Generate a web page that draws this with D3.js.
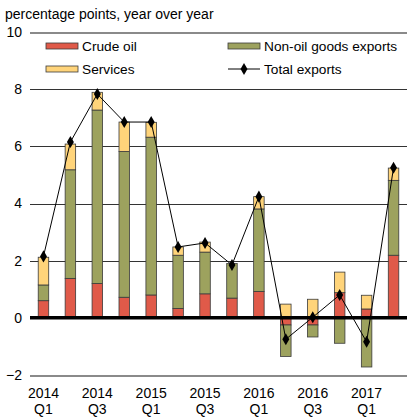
<!DOCTYPE html>
<html>
<head>
<meta charset="utf-8">
<script src="https://d3js.org/d3.v7.min.js"></script>
<style>
body { margin: 0; background: #fff; }
svg text { font-family: "Liberation Sans", Arial, sans-serif; font-size: 14px; fill: #000; }
.legend text { font-size: 13.7px; }
.axis path, .axis line { display: none; }
</style>
</head>
<body>
<svg width="418" height="420"></svg>
<script>
const quarters = ["2014 Q1", "2014 Q2", "2014 Q3", "2014 Q4", "2015 Q1", "2015 Q2", "2015 Q3",
  "2015 Q4", "2016 Q1", "2016 Q2", "2016 Q3", "2016 Q4", "2017 Q1", "2017 Q2"];
const crudeOil = [0.60, 1.38, 1.20, 0.72, 0.80, 0.33, 0.84, 0.69, 0.92, -0.25, -0.25, 0.88, 0.31, 2.19];
const nonOilGoods = [0.55, 3.80, 6.07, 5.10, 5.52, 1.86, 1.46, 1.21, 2.89, -1.10, -0.42, -0.89, -1.72, 2.62];
const services = [0.97, 0.90, 0.62, 1.03, 0.52, 0.29, 0.35, 0.00, 0.43, 0.48, 0.65, 0.72, 0.48, 0.43];
const totalExports = [2.15, 6.15, 7.83, 6.85, 6.85, 2.48, 2.62, 1.85, 4.24, -0.75, 0.02, 0.80, -0.84, 5.25];
const yTicks = [-2, 0, 2, 4, 6, 8, 10];
const tickQuarters = ["2014 Q1", "2014 Q3", "2015 Q1", "2015 Q3", "2016 Q1", "2016 Q3", "2017 Q1"];

const series = [
  { key: "crude", name: "Crude oil", values: crudeOil, color: "#e05a49" },
  { key: "nonoil", name: "Non-oil goods exports", values: nonOilGoods, color: "#9da25e" },
  { key: "services", name: "Services", values: services, color: "#ffd47a" }
];

const table = quarters.map((q, i) => {
  const row = { q };
  series.forEach(s => row[s.key] = s.values[i]);
  return row;
});

const svg = d3.select("svg");
const margin = { top: 32, right: 11, bottom: 45, left: 30 };
const width = +svg.attr("width") - margin.left - margin.right;
const height = 375 - margin.top;

const g = svg.append("g").attr("transform", `translate(${margin.left},${margin.top})`);

const x = d3.scaleBand().domain(quarters).range([0, width]).paddingInner(0.61).paddingOuter(0.305);
const y = d3.scaleLinear().domain([-2, 10]).range([height, 0]);

// gridlines
g.append("g")
  .selectAll("line")
  .data(yTicks.filter(t => t !== 0))
  .enter().append("line")
  .attr("x1", 0).attr("x2", width)
  .attr("y1", d => Math.round(y(d)) + 0.5).attr("y2", d => Math.round(y(d)) + 0.5)
  .style("shape-rendering", "crispEdges")
  .style("stroke", d => (d === 10 || d === -2) ? "#8a8a8a" : "#333")
  .style("stroke-width", d => (d === 10 || d === -2) ? 2 : 1);

// y labels
g.append("g").attr("class", "axis")
  .call(d3.axisLeft(y).tickValues(yTicks).tickSize(0).tickPadding(8));

// stacked bars
const stack = d3.stack().keys(series.map(s => s.key)).offset(d3.stackOffsetDiverging);
const layers = stack(table);

g.selectAll(".layer")
  .data(layers)
  .enter().append("g")
  .attr("class", "layer")
  .attr("fill", (d, i) => series[i].color)
  .selectAll("rect")
  .data(d => d)
  .enter().append("rect")
  .attr("x", d => x(d.data.q))
  .attr("width", x.bandwidth())
  .attr("y", d => y(Math.max(d[0], d[1])))
  .attr("height", d => Math.abs(y(d[0]) - y(d[1])))
  .attr("stroke", "#3a3a3a")
  .attr("stroke-width", 0.8);

// zero line
g.append("line")
  .attr("x1", 0).attr("x2", width)
  .attr("y1", y(0)).attr("y2", y(0))
  .attr("stroke", "#000").attr("stroke-width", 3.5);

// total exports line
const line = d3.line()
  .x((d, i) => x(quarters[i]) + x.bandwidth() / 2)
  .y(d => y(d));

g.append("path")
  .datum(totalExports)
  .attr("fill", "none")
  .attr("stroke", "#000")
  .attr("stroke-width", 1)
  .attr("d", line);

const diamond = d3.symbol().type(d3.symbolDiamond).size(42);
g.selectAll(".dot")
  .data(totalExports)
  .enter().append("path")
  .attr("class", "dot")
  .attr("d", diamond)
  .attr("transform", (d, i) => `translate(${x(quarters[i]) + x.bandwidth() / 2},${y(d)})`)
  .attr("fill", "#000");

// x labels
const xl = g.append("g").attr("transform", `translate(0,${height})`);
xl.selectAll("text.yr")
  .data(tickQuarters)
  .enter().append("text")
  .attr("x", d => x(d) + x.bandwidth() / 2)
  .attr("y", 23)
  .attr("text-anchor", "middle")
  .text(d => d.split(" ")[0]);
xl.selectAll("text.qt")
  .data(tickQuarters)
  .enter().append("text")
  .attr("x", d => x(d) + x.bandwidth() / 2)
  .attr("y", 39)
  .attr("text-anchor", "middle")
  .text(d => d.split(" ")[1]);

// title
svg.append("text").attr("x", 5).attr("y", 19).text("percentage points, year over year");

// legend
const legendItems = [
  { name: "Crude oil", color: series[0].color, x: 46, y: 46 },
  { name: "Non-oil goods exports", color: series[1].color, x: 228, y: 46 },
  { name: "Services", color: series[2].color, x: 46, y: 69 },
  { name: "Total exports", line: true, x: 228, y: 69 }
];
const lg = svg.append("g").attr("class", "legend");
legendItems.forEach(it => {
  if (it.line) {
    lg.append("line").attr("x1", it.x).attr("x2", it.x + 32)
      .attr("y1", it.y).attr("y2", it.y).attr("stroke", "#000").attr("stroke-width", 1);
    lg.append("path").attr("d", diamond)
      .attr("transform", `translate(${it.x + 16},${it.y})`).attr("fill", "#000");
  } else {
    lg.append("rect").attr("x", it.x).attr("y", it.y - 3).attr("width", 32).attr("height", 6)
      .attr("fill", it.color).attr("stroke", "#3a3a3a").attr("stroke-width", 0.8);
  }
  lg.append("text").attr("x", it.x + 36).attr("y", it.y + 5).text(it.name);
});
</script>
</body>
</html>
